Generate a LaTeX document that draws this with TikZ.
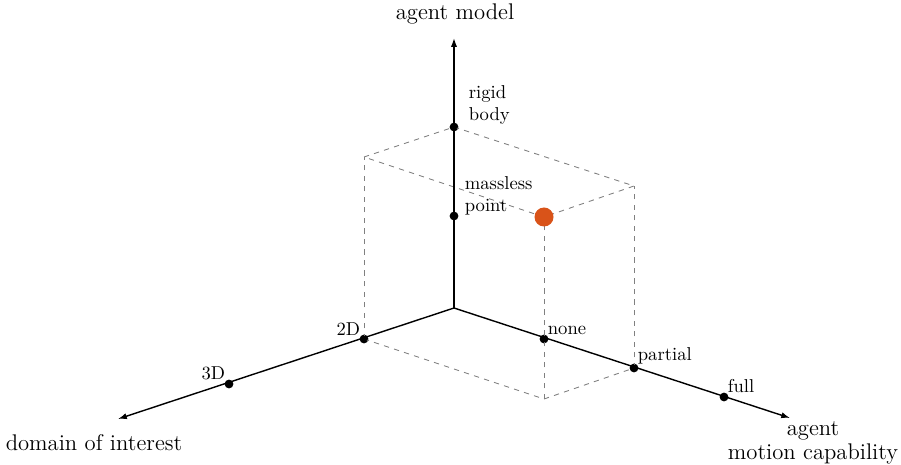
\documentclass[tikz,border=0pt]{standalone}
\usetikzlibrary{arrows.meta}
\definecolor{dotorange}{RGB}{217,83,25}
\begin{document}
\begin{tikzpicture}[x=0.02cm,y=-0.02cm,
  axis/.style={line width=0.8pt,-{Latex[length=5pt,width=3.5pt]}},
  boxline/.style={gray,dashed,line width=0.5pt},
  tick/.style={circle,fill=black,inner sep=0pt,minimum size=5pt},
  lbl/.style={inner sep=2pt,font=\fontsize{10.6}{12.4}\selectfont},
  big/.style={font=\fontsize{12.9}{13.2}\selectfont,align=center}]
\useasboundingbox (0,0) rectangle (901,465);
% coordinates
\coordinate (O) at (454,308);
\coordinate (Zend) at (454,38);
\coordinate (Xend) at (118,419);
\coordinate (Yend) at (790,418);
\coordinate (b1) at (544,399);
\coordinate (t2D) at (364,157);
\coordinate (tP) at (634,186);
% tick nodes
\node[tick] (d2) at (364,339) {};
\node[tick] (d3) at (229,384) {};
\node[tick] (none) at (544,339) {};
\node[tick] (part) at (634,368) {};
\node[tick] (full) at (724,397) {};
\node[tick] (mp) at (454,216) {};
\node[tick] (rb) at (454,127) {};
\node[circle,fill=dotorange,inner sep=0pt,minimum size=10pt] (dot) at (544,217) {};
% dashed box
\draw[boxline] (d2.center) -- (b1) -- (part.center);
\draw[boxline] (d2.center) -- (t2D);
\draw[boxline] (b1) -- (dot.center);
\draw[boxline] (part.center) -- (tP);
\draw[boxline] (t2D) -- (rb.center) -- (tP) -- (dot.center) -- (t2D);
% axes
\draw[axis] (O) -- (Zend);
\draw[axis] (O) -- (Xend);
\draw[axis] (O) -- (Yend);
% redraw ticks on top
\foreach \n in {d2,d3,none,part,full,mp,rb} \fill (\n) circle (3.1);
\fill[dotorange] (dot) circle (9.5);
% labels
\node[lbl,anchor=south east] (l2d) at (d2.center) {2D};
\node[lbl,anchor=south east] (l3d) at (d3.center) {3D};
\node[lbl,anchor=south west] (lnone) at (none.center) {none};
\node[lbl,anchor=south west] (lpart) at (part.center) {partial};
\node[lbl,anchor=south west] (lfull) at (full.center) {full};
\node[lbl,anchor=west,align=left] (lmp) at (461,196) {massless\\point};
\node[lbl,anchor=west,align=left] (lrb) at (465,105) {rigid\\body};
\node[big] (lz) at (455,14) {agent model};
\node[big] (lx) at (94,443) {domain of interest};
\node[big,anchor=base] (ly) at (813,459) {agent\\motion capability};
\end{tikzpicture}
\end{document}
